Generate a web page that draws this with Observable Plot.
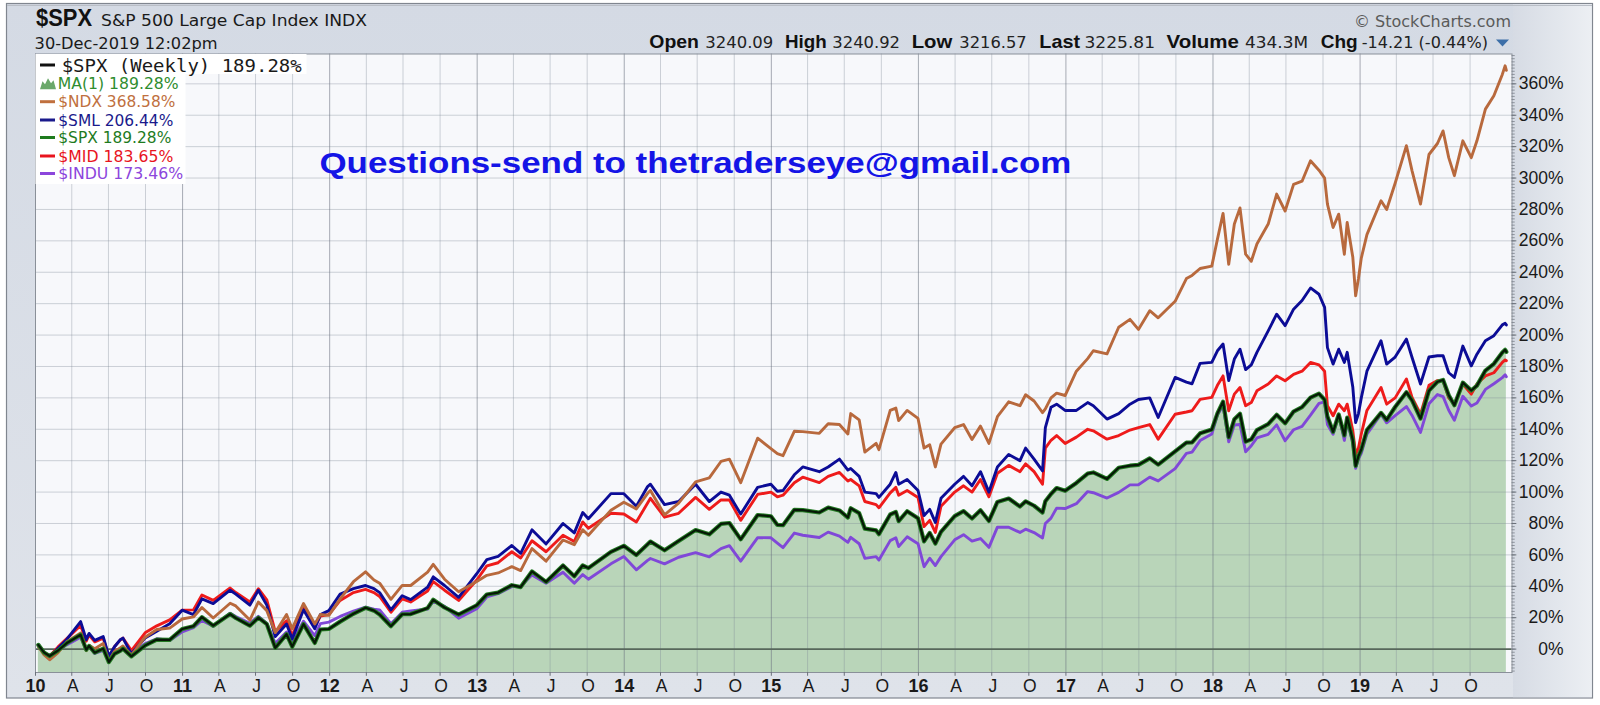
<!DOCTYPE html>
<html>
<head>
<meta charset="utf-8">
<script src="https://cdn.jsdelivr.net/npm/d3@7"></script>
<script src="https://cdn.jsdelivr.net/npm/@observablehq/plot@0.6"></script>
<style>
html,body{margin:0;padding:0;background:#fff;}
#wrap{position:relative;width:1600px;height:705px;overflow:hidden;}
#wrap svg{position:absolute;left:0;top:0;}
</style>
</head>
<body>
<div id="wrap"></div>
<script>
// ---- data: weekly closes (sampled), % change since 31-Dec-2009 ----
const dates = [
"2010-01-08","2010-01-22","2010-02-05","2010-02-26","2010-03-19","2010-04-23","2010-05-07","2010-05-14","2010-05-28","2010-06-18","2010-07-02","2010-07-16","2010-07-30","2010-08-06","2010-08-27","2010-09-30","2010-10-29","2010-11-30","2010-12-31",
"2011-01-28","2011-02-18","2011-03-18","2011-04-29","2011-05-13","2011-06-17","2011-07-08","2011-07-29","2011-08-19","2011-09-16","2011-09-30","2011-10-28","2011-11-25","2011-12-09","2011-12-30",
"2012-01-27","2012-02-29","2012-03-30","2012-04-20","2012-05-04","2012-06-01","2012-06-29","2012-07-20","2012-08-31","2012-09-14","2012-10-12","2012-11-16","2012-12-31",
"2013-01-25","2013-02-22","2013-03-28","2013-04-19","2013-05-17","2013-06-21","2013-08-02","2013-08-30","2013-09-20","2013-10-04","2013-11-29","2013-12-31",
"2014-01-31","2014-02-28","2014-03-07","2014-04-11","2014-05-16","2014-06-27","2014-07-31","2014-08-29","2014-09-19","2014-10-17","2014-11-28","2014-12-31",
"2015-01-16","2015-01-30","2015-02-27","2015-03-20","2015-04-30","2015-05-22","2015-06-19","2015-07-10","2015-07-17","2015-08-07","2015-08-21","2015-09-18","2015-09-25","2015-10-23","2015-11-06","2015-11-13","2015-12-04","2015-12-31",
"2016-01-15","2016-01-29","2016-02-12","2016-02-26","2016-03-31","2016-04-22","2016-05-13","2016-06-03","2016-06-24","2016-07-15","2016-08-12","2016-09-09","2016-09-23","2016-10-14","2016-11-04","2016-11-11","2016-11-25","2016-12-09","2016-12-30",
"2017-01-27","2017-02-24","2017-03-10","2017-04-13","2017-05-12","2017-06-09","2017-06-30","2017-07-28","2017-08-18","2017-09-29","2017-10-27","2017-11-10","2017-11-30","2017-12-29",
"2018-01-12","2018-01-26","2018-02-09","2018-02-23","2018-03-09","2018-03-23","2018-04-06","2018-04-20","2018-05-18","2018-06-08","2018-06-29","2018-07-20","2018-08-10","2018-08-31","2018-09-21","2018-10-05","2018-10-12","2018-10-26","2018-11-09","2018-11-23","2018-11-30","2018-12-14","2018-12-21","2018-12-28",
"2019-01-04","2019-01-18","2019-02-22","2019-03-08","2019-03-29","2019-04-26","2019-05-10","2019-05-31","2019-06-21","2019-07-12","2019-07-26","2019-08-09","2019-08-23","2019-09-13","2019-10-04","2019-10-18","2019-11-08","2019-11-29","2019-12-20","2019-12-27","2019-12-30"
];
const spx = [
2.7,-2.1,-4.4,-0.9,3.7,9.1,-0.4,2.0,-2.3,0.3,-8.3,-3.0,-1.2,0.3,-4.6,2.3,6.1,5.9,12.8,
14.6,20.4,14.9,22.3,19.8,14.9,20.0,15.9,0.8,9.5,1.5,15.9,3.9,12.5,12.8,
17.5,22.5,26.3,24.5,22.0,14.6,22.2,22.3,26.1,31.4,26.5,22.0,27.9,
34.8,36.0,40.7,39.5,49.5,42.8,53.3,46.4,53.3,51.6,61.9,65.8,
59.9,66.8,68.5,62.9,68.9,75.8,73.1,79.7,80.3,69.9,85.4,84.6,
79.1,78.9,88.7,88.5,87.0,90.1,88.3,83.8,89.7,86.6,76.7,75.6,73.2,85.7,87.3,81.5,87.8,83.3,
68.6,74.0,67.2,74.7,84.7,87.9,83.2,88.4,81.6,93.7,95.9,90.8,94.1,91.3,87.0,94.1,98.8,102.6,100.8,
105.8,111.8,112.5,108.4,115.5,116.8,117.3,121.5,117.5,125.9,131.5,131.6,137.4,139.8,
150.1,157.6,134.9,146.4,149.9,132.1,133.6,139.4,143.3,149.2,143.8,151.3,154.1,160.2,162.7,158.8,148.1,138.4,149.4,136.1,147.5,133.2,116.7,122.9,
127.1,139.5,150.4,146.0,154.2,163.6,158.4,146.8,164.6,170.3,171.4,161.7,155.3,169.7,164.7,167.8,177.4,181.7,188.9,190.6,189.28
];
const ndx = [
1.7,-3.5,-6.8,-2.3,4.5,10.2,-1.0,2.5,0.3,3.5,-7.5,-1.5,0.8,2.0,-3.8,7.6,12.5,13.4,19.2,
20.5,26.5,19.8,29.2,27.5,18.5,30.0,24.5,10.5,22.0,13.0,29.0,16.0,22.0,21.5,
32.0,42.9,49.2,44.0,42.0,31.7,40.6,40.5,49.0,54.0,44.5,36.5,43.0,
47.0,48.5,52.5,50.0,64.0,56.0,69.5,66.5,76.0,72.5,88.5,93.5,
89.3,99.2,101.0,85.5,93.0,106.5,109.0,119.5,121.0,106.0,134.3,127.7,
124.5,123.2,138.7,138.5,137.4,143.5,143.0,137.0,150.0,146.0,125.5,131.0,127.0,152.0,153.5,145.5,152.0,146.9,
128.0,130.1,116.0,130.5,141.0,143.0,133.5,142.0,131.0,148.0,157.5,155.0,162.0,158.0,150.6,153.0,160.0,163.0,161.5,
177.0,185.0,190.0,188.0,205.0,210.0,203.6,215.5,211.0,221.5,236.0,238.0,242.4,243.9,
261.0,277.5,245.0,270.7,281.0,251.5,247.0,258.0,270.7,289.8,279.0,296.0,298.0,311.0,305.0,300.0,283.4,268.5,277.0,251.5,271.7,249.5,225.0,236.0,
249.0,264.0,285.5,280.0,296.7,320.6,304.6,283.4,315.0,322.0,330.0,313.0,301.5,323.7,313.0,323.7,343.9,352.4,366.0,371.5,368.58
];
const sml = [
2.8,-2.0,-5.0,0.5,6.0,17.5,6.0,10.0,5.6,8.0,-4.5,1.5,5.9,7.0,-3.0,7.1,11.3,16.1,24.8,
22.0,32.0,29.0,37.5,35.0,28.0,37.5,28.0,8.0,16.0,6.5,25.0,13.0,22.0,24.5,
35.0,38.5,40.5,38.5,36.0,25.0,34.0,31.5,39.5,46.0,40.5,33.0,48.0,
57.0,59.0,66.0,61.0,76.0,67.0,80.0,74.0,87.0,83.0,99.0,99.0,
91.0,103.5,105.0,92.0,94.0,105.0,94.0,100.0,98.0,86.0,103.0,105.0,
100.5,101.0,111.0,116.0,113.0,116.0,121.0,114.0,115.0,110.0,100.0,99.0,96.6,105.0,112.5,105.0,108.0,101.0,
85.0,89.0,80.7,96.0,105.0,110.0,104.0,113.0,100.0,116.0,124.0,120.0,128.0,121.0,113.5,141.0,154.0,156.0,152.0,
152.0,157.0,155.0,146.5,150.0,156.0,159.0,160.0,147.5,173.0,170.0,169.0,182.0,182.6,
190.0,194.3,171.0,184.7,191.0,178.0,181.0,189.0,202.7,213.3,206.0,216.5,222.0,230.0,226.0,217.6,192.0,181.5,191.0,182.6,189.0,166.7,144.3,150.0,
160.0,177.0,196.4,181.5,186.0,197.4,185.7,168.8,186.0,186.8,186.8,176.0,173.0,193.0,180.4,187.8,196.4,199.6,206.5,207.5,206.44
];
const mid = [
2.5,-2.0,-4.5,1.4,6.5,15.0,5.0,9.0,4.6,7.0,-5.0,1.5,5.7,7.0,-1.0,10.4,14.8,18.6,24.8,
25.0,34.5,31.0,38.9,36.0,30.0,38.5,31.4,11.0,18.0,8.5,26.0,14.0,21.0,22.0,
31.0,36.0,38.0,36.0,33.5,23.5,32.0,30.0,37.0,43.0,37.5,31.0,44.0,
53.0,55.0,62.0,58.0,69.0,62.0,72.5,68.5,81.0,77.0,86.5,86.0,
81.0,93.0,96.0,84.0,86.5,96.6,89.0,95.0,95.0,82.0,98.5,100.0,
97.0,98.0,106.0,109.5,106.0,110.0,112.5,107.0,108.0,104.0,94.0,92.0,90.0,99.5,103.0,98.0,101.0,96.6,
78.0,82.0,74.3,91.0,100.0,104.0,100.0,108.0,97.0,112.0,117.0,113.0,118.0,113.0,105.0,128.0,133.0,136.0,131.0,
135.0,140.0,139.0,133.7,136.0,139.5,141.0,143.0,133.7,149.6,151.0,151.8,159.0,160.3,
168.0,174.0,151.8,162.4,166.6,155.0,157.0,164.5,168.8,174.0,170.9,175.0,177.0,182.6,181.0,177.0,155.0,148.6,156.0,151.8,156.0,139.0,124.2,128.0,
137.0,152.0,166.6,156.0,160.0,172.0,160.3,149.7,168.0,171.0,171.0,160.0,156.0,168.8,162.4,168.8,174.0,176.0,182.6,184.2,183.65
];
const indu = [
1.8,-2.5,-4.0,-1.0,2.7,7.6,-0.5,1.6,-2.8,-0.8,-7.0,-2.5,0.4,1.5,-3.4,3.5,6.6,5.5,11.0,
13.7,18.3,14.5,22.9,20.8,16.5,20.9,16.4,3.7,10.9,4.7,17.8,8.6,16.2,17.2,
20.8,24.2,26.7,25.4,25.0,16.2,23.5,24.3,25.5,30.5,27.2,19.7,25.7,
33.2,35.3,39.8,40.0,47.2,41.9,48.9,42.0,47.5,44.5,54.3,59.0,
50.5,56.5,57.7,54.3,58.5,61.4,58.8,64.0,65.9,56.0,71.0,70.9,
67.5,64.6,73.9,72.5,71.1,74.5,72.0,68.0,71.2,67.1,57.8,58.9,56.7,69.1,70.9,65.3,71.5,67.1,
52.5,57.9,53.2,58.9,69.6,72.9,68.8,70.4,64.8,77.7,77.6,74.3,76.4,74.2,70.8,80.0,83.4,89.8,89.5,
92.6,100.3,99.6,96.2,99.8,104.6,104.7,109.5,107.1,114.9,124.7,125.5,132.8,137.0,
149.0,155.2,132.0,142.7,143.0,125.7,129.5,134.5,136.8,142.8,132.7,139.7,141.9,149.0,156.5,157.4,143.0,136.8,149.2,132.9,144.9,131.1,115.2,121.2,
124.7,136.9,149.6,144.1,148.7,154.5,148.8,138.0,156.2,162.1,160.8,152.1,145.8,161.0,154.8,156.7,165.4,169.0,172.9,174.7,173.46
];
const yTicks = [0,20,40,60,80,100,120,140,160,180,200,220,240,260,280,300,320,340,360];
const quarterLetters = ["", "A", "J", "O"];
const years = [2010,2011,2012,2013,2014,2015,2016,2017,2018,2019];

const legendRows = [
  {text: "MA(1) 189.28%", color: "#2f8d2f", len: 121, icon: true},
  {text: "$NDX 368.58%", color: "#c0703e", len: 117},
  {text: "$SML 206.44%", color: "#1a1a8c", len: 115},
  {text: "$SPX 189.28%", color: "#1e7b1e", len: 113},
  {text: "$MID 183.65%", color: "#e8141e", len: 115},
  {text: "$INDU 173.46%", color: "#8c46dc", len: 125}
];

// ---- build table ----
const data = dates.map((d, i) => ({
  date: new Date(d + "T00:00:00Z"),
  spx: spx[i], ndx: ndx[i], sml: sml[i], mid: mid[i], indu: indu[i]
}));
const quarters = [];
years.forEach(y => [0,3,6,9].forEach(m => quarters.push({
  date: new Date(Date.UTC(y, m, 1)),
  major: m === 0,
  label: m === 0 ? String(y % 100).padStart(2, "0") : quarterLetters[m / 3]
})));
const majors = quarters.filter(q => q.major);
const minors = quarters.filter(q => !q.major);

const xDomain = [new Date(Date.UTC(2010,0,1)), new Date(Date.UTC(2020,0,13))];
const yDomain = [-14.9, 379];
const dayMs = 86400000;
const xEnd = xDomain[1];
const xTickMinor = new Date(+xEnd + 8 * dayMs);
const xTickMajor = new Date(+xEnd + 12 * dayMs);
const minorY = d3.range(-14, 379, 2);

const SANS = "'Liberation Sans', Arial, sans-serif";
const VSANS = "'DejaVu Sans', Verdana, sans-serif";
const MONO = "'DejaVu Sans Mono', monospace";

const wrap = document.getElementById("wrap");

// ---- background svg ----
const bg = d3.create("svg").attr("width", 1600).attr("height", 705);
const defs = bg.append("defs");
const g1 = defs.append("linearGradient").attr("id","bgv").attr("x1",0).attr("y1",0).attr("x2",0).attr("y2",1);
g1.append("stop").attr("offset","0").attr("stop-color","#d4dae4");
g1.append("stop").attr("offset","1").attr("stop-color","#dfe3ea");
const g2 = defs.append("linearGradient").attr("id","bgr").attr("x1",0).attr("y1",0).attr("x2",1).attr("y2",0);
g2.append("stop").attr("offset","0").attr("stop-color","#d6dbe4");
g2.append("stop").attr("offset","1").attr("stop-color","#eceff3");
bg.append("rect").attr("x",0).attr("y",0).attr("width",1600).attr("height",705).attr("fill","#ffffff");
bg.append("rect").attr("x",6.5).attr("y",3.5).attr("width",1586).attr("height",694.5)
  .attr("fill","url(#bgv)").attr("stroke","#80868f").attr("stroke-width",1.2);
bg.append("rect").attr("x",1513).attr("y",4.2).attr("width",78.8).attr("height",693)
  .attr("fill","url(#bgr)");
bg.append("line").attr("x1",7).attr("x2",1592).attr("y1",5.5).attr("y2",5.5).attr("stroke","#b9bec6");
wrap.appendChild(bg.node());

// ---- the chart ----
const chart = Plot.plot({
  width: 1600,
  height: 705,
  marginLeft: 35,
  marginRight: 88.5,
  marginTop: 53.5,
  marginBottom: 33,
  style: {background: "transparent", overflow: "visible"},
  x: {type: "utc", domain: xDomain, axis: null},
  y: {type: "linear", domain: yDomain, axis: null},
  marks: [
    Plot.frame({fill: "#f7f8fb", stroke: null}),
    Plot.areaY(data, {x: "date", y1: yDomain[0], y2: "spx", fill: "#b9d5b9"}),
    Plot.ruleY(yTicks.filter(d => d !== 0), {stroke: "#7d8796", strokeOpacity: 0.36, strokeWidth: 1}),
    Plot.ruleX(minors, {x: "date", stroke: "#7d8796", strokeOpacity: 0.36, strokeWidth: 1}),
    Plot.ruleX(majors, {x: "date", stroke: "#6a7280", strokeOpacity: 0.58, strokeWidth: 1}),
    Plot.ruleY([0], {stroke: "#57675b", strokeWidth: 1.6}),
    Plot.line(data, {x: "date", y: "indu", stroke: "#8048d8", strokeWidth: 2.9}),
    Plot.line(data, {x: "date", y: "mid", stroke: "#ee1b1b", strokeWidth: 2.9}),
    Plot.line(data, {x: "date", y: "sml", stroke: "#0c0c96", strokeWidth: 2.9}),
    Plot.line(data, {x: "date", y: "ndx", stroke: "#b8693d", strokeWidth: 2.9}),
    Plot.line(data, {x: "date", y: "spx", stroke: "#247a24", strokeWidth: 4.2}),
    Plot.line(data, {x: "date", y: "spx", stroke: "#061806", strokeWidth: 2.2}),
    Plot.frame({stroke: "#8a9099", strokeWidth: 1}),
    // bottom ticks
    Plot.ruleX(quarters, {x: "date", y1: yDomain[0], y2: yDomain[0] - 2.4, stroke: "#6b717a"}),
    // right minor ticks
    Plot.ruleY(minorY, {y: d => d, x1: xEnd, x2: xTickMinor, stroke: "#7a8089", strokeWidth: 0.8}),
    Plot.ruleY(yTicks, {y: d => d, x1: xEnd, x2: xTickMajor, stroke: "#6a7079", strokeWidth: 1}),
    // x labels
    Plot.text(majors, {x: "date", y: yDomain[0], text: "label", dy: 13.5, fontSize: 18, fontWeight: "bold",
      fontFamily: SANS, fill: "#1a1a1a"}),
    Plot.text(minors, {x: "date", y: yDomain[0], text: "label", dy: 13.5, dx: 1, fontSize: 17.5,
      fontFamily: SANS, fill: "#1a1a1a"}),
    // y labels
    Plot.text(yTicks, {x: xEnd, y: d => d, text: d => `${d}%`, textAnchor: "end", dx: 51.5,
      fontSize: 17.5, fontFamily: SANS, fill: "#1a1a1a"})
  ]
});
wrap.appendChild(chart);

// ---- overlay: header, legend, watermark ----
const ov = d3.create("svg").attr("width", 1600).attr("height", 705);
function txt(x, y, s, o = {}) {
  const t = ov.append("text").attr("x", x).attr("y", y).text(s)
    .attr("font-family", o.family || SANS)
    .attr("font-size", o.size || 16)
    .attr("font-weight", o.weight || "normal")
    .attr("fill", o.fill || "#1a1a1a");
  if (o.len) t.attr("textLength", o.len).attr("lengthAdjust", "spacingAndGlyphs");
  if (o.anchor) t.attr("text-anchor", o.anchor);
  return t;
}
// header left
txt(36, 25.5, "$SPX", {size: 23, weight: "bold", len: 56, fill: "#111"});
txt(101, 25.5, "S&P 500 Large Cap Index INDX", {size: 15.5, family: VSANS, len: 266});
txt(34.6, 48.5, "30-Dec-2019 12:02pm", {size: 15, family: VSANS, len: 183});
// header right
txt(1354, 27, "© StockCharts.com", {size: 15.5, family: VSANS, len: 157, fill: "#5a5a5a"});
const ohlc = [
  ["Open", 649.3, 49.7, true], ["3240.09", 705.3, 68, false],
  ["High", 785, 41.7, true], ["3240.92", 832.3, 67.7, false],
  ["Low", 911.7, 40.6, true], ["3216.57", 959.3, 67.4, false],
  ["Last", 1039.3, 40.7, true], ["3225.81", 1084.5, 70.5, false],
  ["Volume", 1166.5, 72.5, true], ["434.3M", 1245, 63, false],
  ["Chg", 1320.7, 37, true], ["-14.21 (-0.44%)", 1361.7, 126.3, false]
];
ohlc.forEach(([s, x, len, b]) => txt(x, 48.3, s, b
  ? {size: 18.5, weight: "bold", len, fill: "#111"}
  : {size: 15, family: VSANS, len, fill: "#222"}));
ov.append("polygon").attr("points", "1496,39.5 1509,39.5 1502.5,46.5").attr("fill", "#3d6fa8");

// legend
ov.append("rect").attr("x", 35.5).attr("y", 54).attr("width", 271).attr("height", 20).attr("fill", "#ffffff");
ov.append("rect").attr("x", 35.5).attr("y", 74).attr("width", 150).attr("height", 110).attr("fill", "#ffffff");
ov.append("line").attr("x1", 40).attr("x2", 55).attr("y1", 65).attr("y2", 65).attr("stroke", "#111").attr("stroke-width", 3);
txt(61.7, 71.5, "$SPX (Weekly) 189.28%", {size: 18, family: MONO, len: 240, fill: "#1a1a1a"});
const rowY = [83.3, 101.7, 120, 137.5, 156, 173.5];
legendRows.forEach((r, i) => {
  const cy = rowY[i];
  if (r.icon) {
    ov.append("polygon")
      .attr("points", `40,${cy+6} 42.5,${cy-2} 45,${cy+1} 48,${cy-5} 51,${cy} 53.5,${cy-3} 56,${cy+6}`)
      .attr("fill", "#6aa86a");
  } else {
    ov.append("line").attr("x1", 40).attr("x2", 55).attr("y1", cy).attr("y2", cy)
      .attr("stroke", r.color).attr("stroke-width", 3);
  }
  txt(r.icon ? 57.7 : 58.3, cy + 5.5, r.text, {size: 15, family: VSANS, len: r.len, fill: r.color});
});

// watermark
txt(319.4, 172.5, "Questions-send to thetraderseye@gmail.com", {size: 30, weight: "bold", len: 752, fill: "#1414e6"});

wrap.appendChild(ov.node());
</script>
</body>
</html>
